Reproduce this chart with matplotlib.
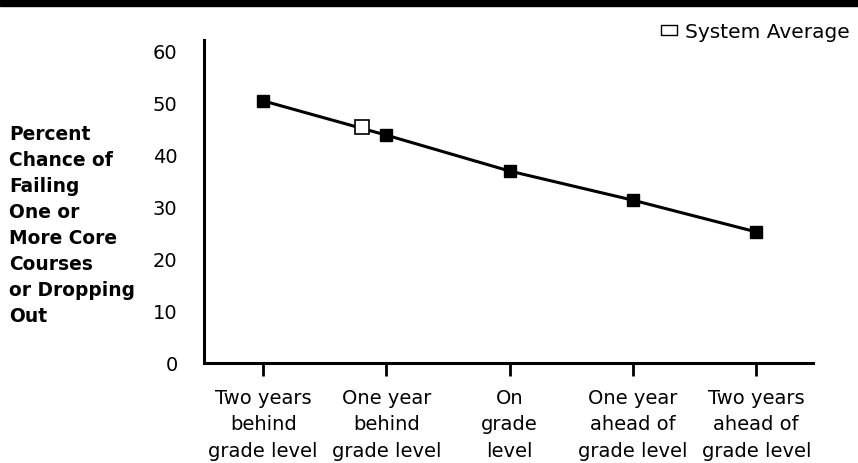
import matplotlib.pyplot as plt
from matplotlib.patches import Rectangle
from matplotlib.lines import Line2D

# data
categories = ["Two years\nbehind\ngrade level", "One year\nbehind\ngrade level",
              "On\ngrade\nlevel", "One year\nahead of\ngrade level",
              "Two years\nahead of\ngrade level"]
percent_values = [50.4, 43.8, 36.9, 31.3, 25.2]
system_avg_x = 0.8
system_avg_value = 45.3
y_ticks = [0, 10, 20, 30, 40, 50, 60]
ylabel_text = "Percent\nChance of\nFailing\nOne or\nMore Core\nCourses\nor Dropping\nOut"

plt.rcParams['font.family'] = ['DejaVu Sans']

fig = plt.figure(figsize=(8.58, 4.64), dpi=100)
ax = fig.add_axes([204/858, 1 - 364/464, (813-204)/858, (364-41)/464])

xs = list(range(len(categories)))
ax.plot(xs, percent_values, color='black', lw=2.2, marker='s', ms=9,
        markerfacecolor='black', markeredgecolor='black', zorder=3)
ax.plot([system_avg_x], [system_avg_value], marker='s', ms=10.5, color='white',
        markeredgecolor='black', markeredgewidth=1.2, ls='none', zorder=4)

ax.set_xlim(-0.48, 4.46)
ax.set_ylim(0, 62.1)
ax.set_yticks(y_ticks)
ax.set_yticklabels([str(v) for v in y_ticks], fontsize=14)
ax.set_xticks(xs)
ax.set_xticklabels(categories, fontsize=14, linespacing=1.5)

for side in ['top', 'right']:
    ax.spines[side].set_visible(False)
ax.spines['left'].set_linewidth(2.2)
ax.spines['bottom'].set_linewidth(2.2)
ax.tick_params(axis='y', length=0, pad=19)
ax.tick_params(axis='x', direction='out', length=9, width=2, pad=9)

fig.text(9/858, 1 - 125/464, ylabel_text, fontsize=13.4, fontweight='bold',
         ha='left', va='top', linespacing=1.47)

# top black bar
fig.patches.append(Rectangle((0, 1 - 7/464), 1, 7/464, transform=fig.transFigure,
                             color='black', zorder=5))

# legend, with a flat box as in the reference
box = [(-1, -0.55), (1, -0.55), (1, 0.55), (-1, 0.55), (-1, -0.55)]
handle = Line2D([], [], marker=box, ls='none', ms=12, markerfacecolor='white',
                markeredgecolor='black', markeredgewidth=1)
fig.legend([handle], ["System Average"], loc='upper right',
           bbox_to_anchor=(862/858, 1 - 11/464), frameon=False, fontsize=14.5,
           handletextpad=0.3, borderpad=0.1, handlelength=1.0)

fig.savefig('out.png', dpi=100)
